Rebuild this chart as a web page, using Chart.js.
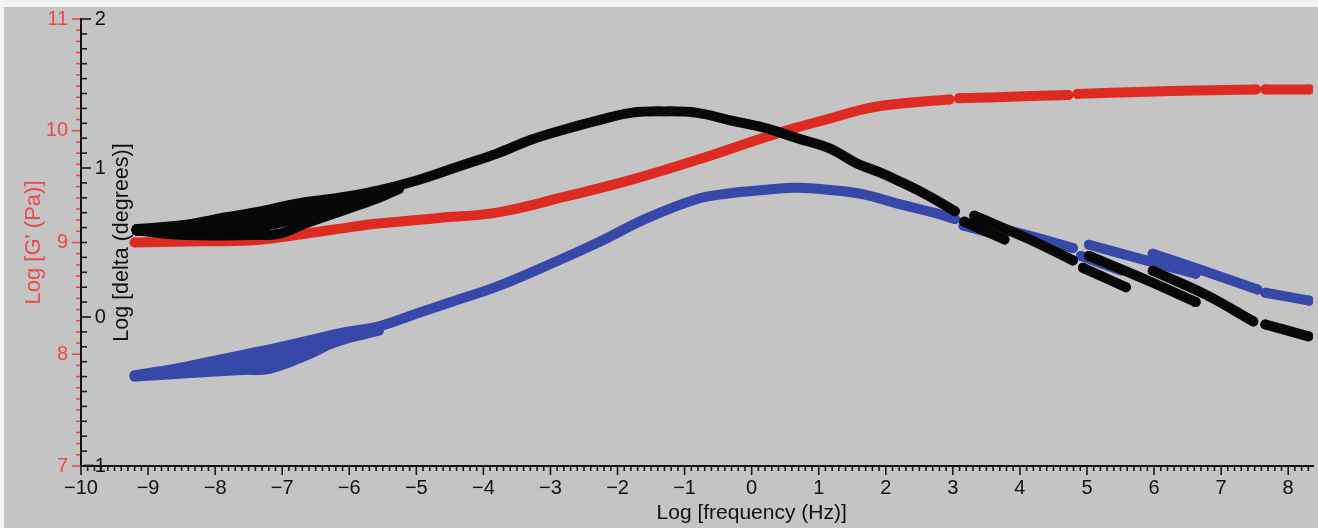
<!DOCTYPE html>
<html>
<head>
<meta charset="utf-8">
<title>Master curves</title>
<script src="https://cdn.jsdelivr.net/npm/chart.js@4.4.1/dist/chart.umd.min.js"></script>
<style>
  html, body { margin: 0; padding: 0; background: #f3f3f3; }
  #wrap { position: absolute; left: 4px; top: 7px; width: 1314px; height: 521px; background: #c3c4c3; }
</style>
</head>
<body>
<div id="wrap"><canvas id="myChart"></canvas></div>
<script>
// log G' (Pa) against log frequency (Hz), one array per overlapping run
const storage1 = [[-9.20, 9.00], [-8.43, 9.01], [-7.45, 9.02], [-6.64, 9.08], [-5.96, 9.14], [-5.56, 9.17], [-4.67, 9.22], [-3.78, 9.27], [-2.78, 9.41], [-1.80, 9.56], [-0.81, 9.74], [0.19, 9.94], [0.68, 10.03], [1.17, 10.11], [1.72, 10.20], [2.16, 10.24], [2.95, 10.28]];
const storage2 = [[3.09, 10.29], [3.65, 10.30], [4.72, 10.32]];
const storage3 = [[4.86, 10.33], [5.88, 10.35], [6.62, 10.36], [7.52, 10.37]];
const storage4 = [[7.66, 10.37], [8.32, 10.37]];

// loss modulus runs, same left axis
const loss1 = [[-9.20, 7.81], [-8.43, 7.89], [-7.79, 7.97], [-7.30, 8.03], [-6.70, 8.11], [-6.05, 8.20], [-5.56, 8.25], [-4.97, 8.37], [-4.37, 8.49], [-3.78, 8.61], [-3.03, 8.80], [-2.29, 9.00], [-1.55, 9.22], [-0.81, 9.39], [-0.32, 9.44], [0.19, 9.47], [0.68, 9.49], [1.17, 9.47], [1.67, 9.43], [2.16, 9.35], [2.76, 9.26], [3.03, 9.21]];
const loss2 = [[-9.20, 7.80], [-8.43, 7.83], [-7.59, 7.86], [-7.19, 7.87], [-6.64, 7.99], [-6.20, 8.11], [-5.56, 8.21]];
const loss3 = [[-9.20, 7.81], [-8.43, 7.87], [-7.59, 7.93], [-7.19, 7.96], [-6.64, 8.06], [-6.20, 8.15], [-5.56, 8.23]];
const loss4 = [[-8.43, 7.85], [-7.59, 7.89], [-7.19, 7.91], [-6.64, 8.02], [-6.20, 8.13]];
const loss5 = [[3.16, 9.15], [3.72, 9.06]];
const loss6 = [[3.28, 9.17], [3.95, 9.09], [4.79, 8.95]];
const loss7 = [[4.91, 8.88], [5.51, 8.75]];
const loss8 = [[5.03, 8.98], [5.88, 8.84], [6.62, 8.72]];
const loss9 = [[5.98, 8.90], [6.77, 8.74], [7.54, 8.58]];
const loss10 = [[7.66, 8.55], [8.31, 8.48]];

// log delta (degrees), scale drawn on the inner side of the left axis line
const delta1 = [[-9.17, 0.59], [-8.43, 0.62], [-7.83, 0.67], [-7.30, 0.71], [-6.79, 0.76], [-6.15, 0.80], [-5.56, 0.85], [-4.97, 0.92], [-4.37, 1.01], [-3.78, 1.10], [-3.29, 1.19], [-2.78, 1.26], [-2.29, 1.32], [-1.80, 1.37], [-1.30, 1.38], [-0.81, 1.37], [-0.32, 1.32], [0.19, 1.27], [0.68, 1.20], [1.17, 1.13], [1.57, 1.03], [1.91, 0.97], [2.16, 0.92], [2.61, 0.82], [3.03, 0.71]];
const delta2 = [[-9.17, 0.58], [-8.43, 0.55], [-7.45, 0.55], [-7.04, 0.56], [-6.64, 0.63], [-6.00, 0.73], [-5.56, 0.80], [-5.26, 0.86]];
const delta3 = [[-9.17, 0.59], [-8.43, 0.60], [-7.83, 0.63], [-7.30, 0.66], [-6.79, 0.72], [-6.15, 0.79], [-5.56, 0.84]];
const delta4 = [[-9.17, 0.58], [-8.43, 0.57], [-7.83, 0.59], [-7.30, 0.61], [-6.79, 0.66], [-6.15, 0.74], [-5.56, 0.81]];
const delta5 = [[3.17, 0.64], [3.77, 0.52]];
const delta6 = [[3.32, 0.68], [4.10, 0.53], [4.79, 0.38]];
const delta7 = [[4.94, 0.33], [5.58, 0.20]];
const delta8 = [[5.03, 0.41], [5.88, 0.25], [6.62, 0.10]];
const delta9 = [[5.98, 0.31], [6.77, 0.15], [7.48, -0.03]];
const delta10 = [[7.66, -0.05], [8.30, -0.13]];

const RED = '#de2b22';
const RED_AXIS = '#ea4a4d';
const BLUE = '#3848a8';
const BLACK = '#080808';
const FONT = '"Liberation Sans", Arial, sans-serif';

Chart.defaults.font.family = FONT;
Chart.defaults.font.size = 20;

function run(points, color, axis, order) {
  const last = points.length - 1;
  return {
    data: points.map(p => ({ x: p[0], y: p[1] })),
    yAxisID: axis,
    borderColor: color,
    backgroundColor: color,
    borderWidth: 10,
    borderCapStyle: 'round',
    borderJoinStyle: 'round',
    // round dots only at the two ends of each run
    pointRadius: c => (c.dataIndex === 0 || c.dataIndex === last) ? 5 : 0,
    pointBorderWidth: 0,
    pointBackgroundColor: color,
    tension: 0.4,
    fill: false,
    order: order
  };
}

const datasets = [];
[delta1, delta2, delta3, delta4, delta5, delta6, delta7, delta8, delta9, delta10].forEach(s => datasets.push(run(s, BLACK, 'yD', 1)));
[storage1, storage2, storage3, storage4].forEach(s => datasets.push(run(s, RED, 'yG', 2)));
[loss1, loss2, loss3, loss4, loss5, loss6, loss7, loss8, loss9, loss10].forEach(s => datasets.push(run(s, BLUE, 'yG', 3)));

const minus = v => String(v).replace('-', '\u2212');

// minor/major tick marks and the x title
const axisTicks = {
  id: 'axisTicks',
  afterDraw(chart) {
    const { ctx, chartArea, scales } = chart;
    const left = chartArea.left, bottom = chartArea.bottom;
    ctx.save();
    ctx.lineWidth = 1.6;

    ctx.strokeStyle = '#1a1a1a';
    for (let i = -100; i <= 83; i++) {
      const px = scales.x.getPixelForValue(i / 10);
      const len = i % 10 === 0 ? 9 : 5;
      ctx.beginPath();
      ctx.moveTo(px, bottom);
      ctx.lineTo(px, bottom + len);
      ctx.stroke();
    }

    ctx.strokeStyle = RED_AXIS;
    for (let i = 70; i <= 110; i++) {
      const py = scales.yG.getPixelForValue(i / 10);
      const len = i % 10 === 0 ? 9 : 5;
      ctx.beginPath();
      ctx.moveTo(left - len, py);
      ctx.lineTo(left - 1, py);
      ctx.stroke();
    }

    ctx.strokeStyle = '#1a1a1a';
    for (let i = -10; i <= 20; i++) {
      const py = scales.yD.getPixelForValue(i / 10);
      const len = i % 10 === 0 ? 10 : 6;
      ctx.beginPath();
      ctx.moveTo(left, py);
      ctx.lineTo(left + len, py);
      ctx.stroke();
    }

    ctx.fillStyle = '#111';
    ctx.font = '21px ' + FONT;
    ctx.textAlign = 'center';
    ctx.textBaseline = 'middle';
    ctx.fillText('Log [frequency (Hz)]', scales.x.getPixelForValue(0), chart.height - 15);
    ctx.restore();
  }
};

// fixed box sizes so the plot area lines up with the tick marks
function fixBox(width) {
  return s => {
    s.width = width;
    s.paddingTop = 0;
    s.paddingBottom = 0;
  };
}

const config = {
  type: 'line',
  data: { datasets: datasets },
  options: {
    responsive: true,
    maintainAspectRatio: false,
    animation: false,
    layout: { padding: { top: 12, right: 0, bottom: 0, left: 0 } },
    plugins: {
      legend: { display: false },
      tooltip: { enabled: false }
    },
    scales: {
      x: {
        type: 'linear',
        min: -10,
        max: 8.37,
        grid: { display: false, drawTicks: false },
        border: { color: '#111', width: 2 },
        ticks: { stepSize: 1, includeBounds: false, autoSkip: false, maxRotation: 0, padding: 10, color: '#111', callback: minus },
        afterFit(s) { s.height = 62; s.paddingLeft = 0; s.paddingRight = 0; }
      },
      yG: {
        position: 'left',
        weight: 1,
        min: 7,
        max: 11,
        grid: { display: false, drawTicks: false },
        border: { display: false },
        ticks: { stepSize: 1, color: RED_AXIS, padding: 13, callback: minus },
        title: { display: true, text: "Log [G' (Pa)]", color: RED_AXIS, font: { size: 22 }, padding: { top: 17, bottom: 0 } },
        afterFit: fixBox(77)
      },
      yD: {
        position: 'left',
        weight: 0,
        min: -1,
        max: 2,
        grid: { display: false, drawTicks: false },
        border: { color: '#111', width: 2 },
        ticks: { stepSize: 1, mirror: true, crossAlign: 'far', padding: 2, color: '#111', callback: minus },
        title: { display: true, text: 'Log [delta (degrees)]', color: '#111', font: { size: 21.5 }, padding: { top: 28, bottom: 0 } },
        afterFit: fixBox(0)
      }
    }
  },
  plugins: [axisTicks]
};

const ctx = document.getElementById('myChart');
new Chart(ctx, config);
</script>
</body>
</html>
